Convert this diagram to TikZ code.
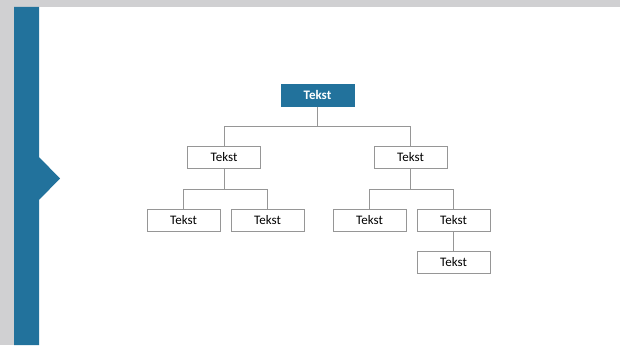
\documentclass[tikz,border=0pt]{standalone}
\usepackage{fontspec}
\setmainfont{Carlito}
\definecolor{barblue}{RGB}{34,114,156}
\definecolor{pagegray}{RGB}{208,208,210}
\definecolor{boxgray}{RGB}{150,150,150}
\tikzset{
  orgbox/.style={draw=boxgray, line width=1pt, fill=white, minimum width=73pt, minimum height=22pt, inner sep=0pt, font=\fontsize{13}{15}\selectfont},
  headbox/.style={orgbox, draw=barblue, fill=barblue, text=white, font=\fontsize{13}{15}\selectfont\bfseries},
  link/.style={draw=boxgray, line width=1pt}
}
\begin{document}
\begin{tikzpicture}[x=1pt, y=-1pt]
        % Page frame
        \useasboundingbox (0,0) rectangle (620,345);
        \fill[pagegray] (0,0) rectangle (620,345);
        \fill[white] (39,7) rectangle (620,345);
        % Left bar with notch
        \fill[barblue] (14,7) -- (39,7) -- (39,157) -- (60,178.5) -- (39,200) -- (39,345) -- (14,345) -- cycle;

        % Boxes
        \node[headbox] (top) at (317.5,95) {Tekst};
        \node[orgbox] (left) at (224,157) {Tekst};
        \node[orgbox] (right) at (410.5,157) {Tekst};
        \node[orgbox] (leftA) at (183.5,220) {Tekst};
        \node[orgbox] (leftB) at (267.5,220) {Tekst};
        \node[orgbox] (rightA) at (369.5,220) {Tekst};
        \node[orgbox] (rightB) at (453.5,220) {Tekst};
        \node[orgbox] (rightC) at (453.5,262) {Tekst};

        % Connectors
        \draw[link] (top.south) -- ++(0,20) -| (left.north);
        \draw[link] (top.south) -- ++(0,20) -| (right.north);
        \draw[link] (left.south) -- ++(0,21) -| (leftA.north);
        \draw[link] (left.south) -- ++(0,21) -| (leftB.north);
        \draw[link] (right.south) -- ++(0,21) -| (rightA.north);
        \draw[link] (right.south) -- ++(0,21) -| (rightB.north);
        \draw[link] (rightB.south) -- (rightC.north);
\end{tikzpicture}
\end{document}
